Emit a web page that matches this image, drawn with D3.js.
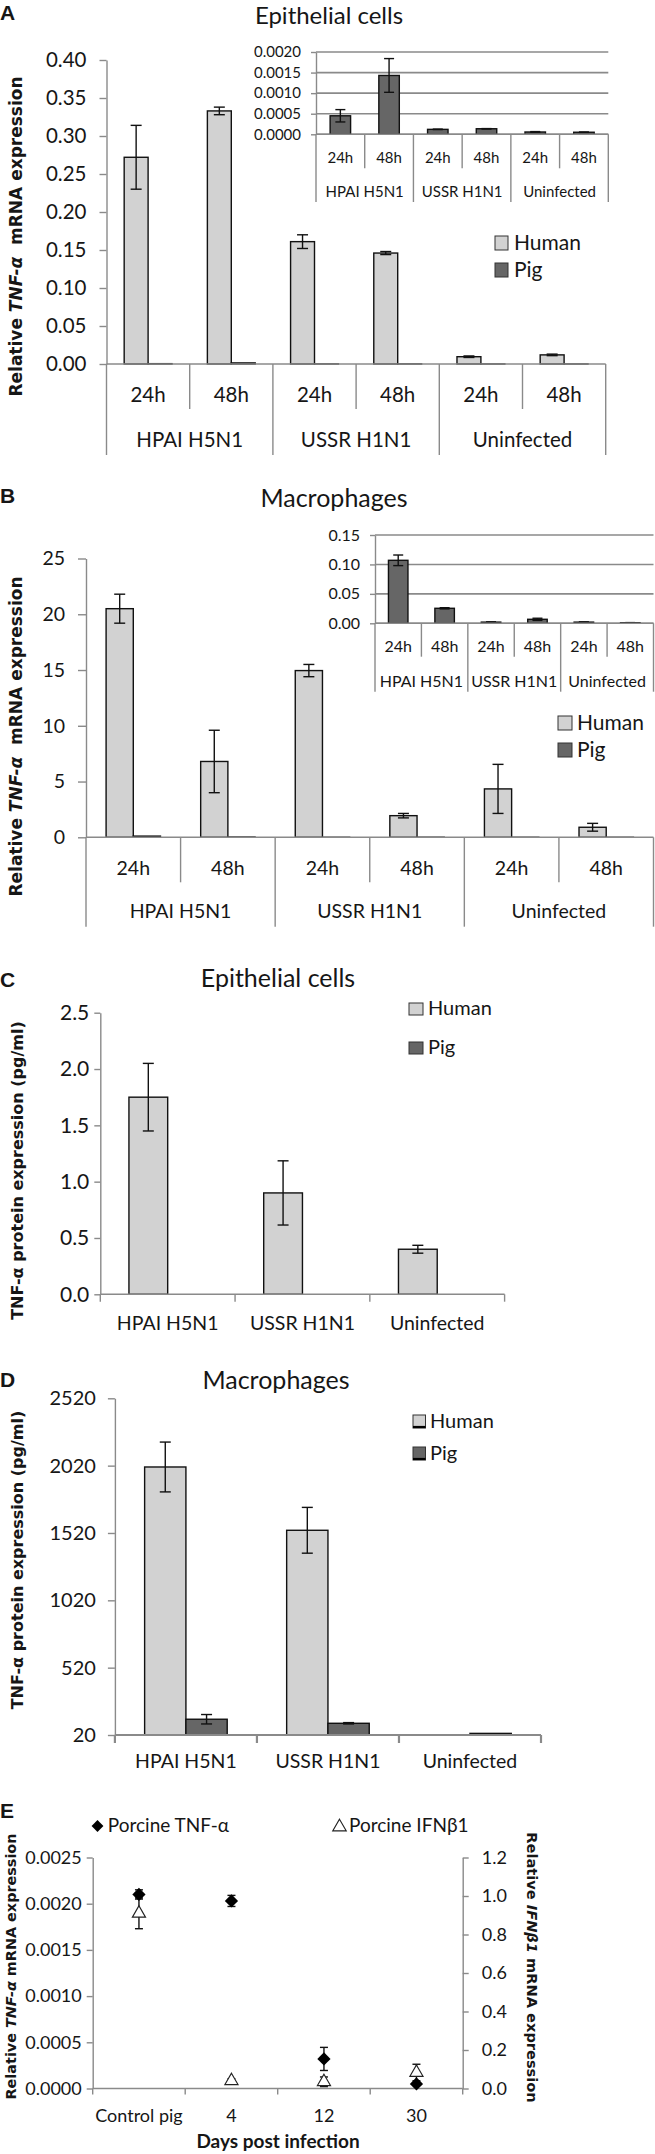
<!DOCTYPE html>
<html><head><meta charset="utf-8">
<script src="https://cdn.jsdelivr.net/npm/d3@7"></script>
<style>
body{margin:0;background:#fff}
svg{display:block}
</style></head><body>
<svg id="chart" width="655" height="2154"></svg>
<script>
// ---------- DATA ----------
const subLabels = ["24h","48h","24h","48h","24h","48h"];
const groupLabels = ["HPAI H5N1","USSR H1N1","Uninfected"];
const seriesNames = ["Human","Pig"];

// A: epithelial cells, relative TNF-a mRNA
const aHuman = [0.272,0.333,0.161,0.146,0.0096,0.012];
const aHumanErr = [0.042,0.005,0.009,0.002,0.001,0.001];
const aPig = [0.00045,0.00143,0.00012,0.000135,0.000056,0.00005];
const aPigErr = [0.00015,0.00041,0.000004,0.000004,0.00001,0.000005];
const aTicks = [0,0.05,0.10,0.15,0.20,0.25,0.30,0.35,0.40];
const aInsetTicks = [0,0.0005,0.0010,0.0015,0.0020];

// B: macrophages, relative TNF-a mRNA
const bHuman = [20.5,6.8,14.95,1.94,4.34,0.9];
const bHumanErr = [1.3,2.8,0.55,0.2,2.2,0.35];
const bPig = [0.107,0.0255,0.002,0.0068,0.002,0.001];
const bPigErr = [0.009,0.001,0.0004,0.0018,0.0003,0.0002];
const bTicks = [0,5,10,15,20,25];
const bInsetTicks = [0,0.05,0.10,0.15];

// C: epithelial cells, TNF-a protein (pg/ml)
const cCats = ["HPAI H5N1","USSR H1N1","Uninfected"];
const cHuman = [1.75,0.90,0.40];
const cHumanErr = [0.30,0.285,0.035];
const cPig = [0,0,0];
const cTicks = [0,0.5,1.0,1.5,2.0,2.5];

// D: macrophages, TNF-a protein (pg/ml)
const dHuman = [2010,1540,20];
const dHumanErr = [185,170,0];
const dPig = [137,107,32];
const dPigErr = [35,5,0];
const dTicks = [20,520,1020,1520,2020,2520];

// E: in vivo
const eDays = ["Control pig","4","12","30"];
const eTnf = [0.00210,0.00203,0.00032,0.00005];
const eTnfErr = [0.00005,0.00006,0.000125,0.00001];
const eIfn = [0.91,0.04,0.035,0.083];
const eIfnErr = [0.08,0.01,0.025,0.043];
const eLeftTicks = [0,0.0005,0.0010,0.0015,0.0020,0.0025];
const eRightTicks = [0,0.2,0.4,0.6,0.8,1.0,1.2];

// ---------- STYLE ----------
const svg = d3.select("#chart");
const AXC = "#8a8a8a", HUMC = "#d2d2d2", PIGC = "#666666", TXT = "#161616", EDGE = "#111";
const FONT = "Lato, 'Open Sans', sans-serif";
const BFONT = "'DejaVu Sans', Verdana, sans-serif";

function text(g, x, y, s, fs, anchor = "middle", opts = {}) {
  return g.append("text").attr("x", x).attr("y", y).attr("text-anchor", anchor)
    .attr("font-family", opts.family || FONT).attr("font-size", fs)
    .attr("font-weight", opts.weight || null).attr("fill", TXT).text(s);
}
function styleAxis(a, fs) {
  a.select(".domain").attr("stroke", AXC).attr("stroke-width", 1.4);
  a.selectAll(".tick line").attr("stroke", AXC).attr("stroke-width", 1.4);
  a.selectAll(".tick text").attr("font-size", fs).attr("font-family", FONT).attr("fill", TXT);
}
function leftAxis(g, y, ticks, fmt, x, size, pad, fs) {
  const a = g.append("g").attr("transform", `translate(${x},0)`)
    .call(d3.axisLeft(y).tickValues(ticks).tickFormat(fmt).tickSize(size).tickSizeOuter(0).tickPadding(pad));
  styleAxis(a, fs); return a;
}
function rightAxis(g, y, ticks, fmt, x, size, pad, fs) {
  const a = g.append("g").attr("transform", `translate(${x},0)`)
    .call(d3.axisRight(y).tickValues(ticks).tickFormat(fmt).tickSize(size).tickSizeOuter(0).tickPadding(pad));
  styleAxis(a, fs); return a;
}
function hline(g, x1, x2, y, color = AXC, w = 1.4) {
  g.append("line").attr("x1", x1).attr("x2", x2).attr("y1", y).attr("y2", y).attr("stroke", color).attr("stroke-width", w);
}
function vline(g, x, y1, y2, color = AXC, w = 1.4) {
  g.append("line").attr("x1", x).attr("x2", x).attr("y1", y1).attr("y2", y2).attr("stroke", color).attr("stroke-width", w);
}
function drawBars(g, xb, keys, xs, name, y, vals, color) {
  const base = y.range()[0];
  g.append("g").selectAll("rect").data(vals).join("rect")
    .attr("x", (d, i) => xb(keys[i]) + xs(name))
    .attr("y", d => y(d))
    .attr("width", xs.bandwidth())
    .attr("height", d => Math.max(0, base - y(d)))
    .attr("fill", color).attr("stroke", EDGE).attr("stroke-width", 1.4);
}
function drawErr(g, cxf, y, vals, errs, cap) {
  const eg = g.append("g").attr("stroke", EDGE).attr("stroke-width", 1.4);
  vals.forEach((v, i) => {
    if (!errs[i]) return;
    const cx = cxf(i), y1 = y(v - errs[i]), y2 = y(v + errs[i]);
    eg.append("line").attr("x1", cx).attr("x2", cx).attr("y1", y1).attr("y2", y2);
    eg.append("line").attr("x1", cx - cap / 2).attr("x2", cx + cap / 2).attr("y1", y1).attr("y2", y1);
    eg.append("line").attr("x1", cx - cap / 2).attr("x2", cx + cap / 2).attr("y1", y2).attr("y2", y2);
  });
}
function multiCatAxis(g, xb, keys, y0, subs, groups, o) {
  const bw = xb.bandwidth(), n = keys.length;
  const x0 = xb(keys[0]), x1 = xb(keys[n - 1]) + bw;
  hline(g, x0, x1, y0);
  for (let i = 0; i <= n; i++) {
    const xx = i < n ? xb(keys[i]) : x1;
    vline(g, xx, y0, i % 2 === 0 ? o.gy : o.sy);
  }
  subs.forEach((s, i) => text(g, xb(keys[i]) + bw / 2, o.sb, s, o.fs));
  groups.forEach((s, j) => text(g, xb(keys[2 * j]) + bw, o.gb, s, o.gfs || o.fs));
}
function yTitle(x, y, parts, fs, rot = -90) {
  const t = svg.append("text").attr("transform", `translate(${x},${y}) rotate(${rot})`)
    .attr("text-anchor", "middle").attr("dominant-baseline", "central")
    .attr("font-family", BFONT).attr("font-weight", "bold").attr("font-size", fs).attr("fill", TXT);
  parts.forEach(p => t.append("tspan").attr("font-style", p.i ? "italic" : null).text(p.t));
}
function legend(g, x, ys, tx, bs, fs, sq, bottomLine) {
  seriesNames.forEach((s, i) => {
    g.append("rect").attr("x", x).attr("y", ys[i]).attr("width", sq[0]).attr("height", sq[1])
      .attr("fill", i === 0 ? HUMC : PIGC).attr("stroke", "#333").attr("stroke-width", 1);
    if (bottomLine) hline(g, x, x + sq[0], ys[i] + sq[1] - 1, "#000", 2.2);
    text(g, tx, bs[i], s, fs, "start");
  });
}
function panelLabel(x, y, s) {
  text(svg, x, y, s, 21, "start", { family: "'Liberation Sans', Arial, sans-serif", weight: "bold" });
}

// ---------- PANEL A ----------
{
  const g = svg.append("g");
  panelLabel(0, 20, "A");
  text(g, 329, 24, "Epithelial cells", 24);
  const keys = d3.range(6);
  const y = d3.scaleLinear().domain([0, 0.4]).range([364, 60]);
  const xb = d3.scaleBand().domain(keys).range([106.5, 605.7]);
  const xs = d3.scaleBand().domain(seriesNames).range([0, xb.bandwidth()]).paddingOuter(0.739);
  drawBars(g, xb, keys, xs, "Human", y, aHuman, HUMC);
  drawBars(g, xb, keys, xs, "Pig", y, aPig, PIGC);
  drawErr(g, i => xb(keys[i]) + xs("Human") + xs.bandwidth() / 2, y, aHuman, aHumanErr, 11);
  leftAxis(g, y, aTicks, d3.format(".2f"), 106.5, 7, 13, 20.5);
  multiCatAxis(g, xb, keys, 364, subLabels, groupLabels, { sy: 409, gy: 455, sb: 402, gb: 447, fs: 20.5 });
  legend(g, 495, [236, 263], 514, [250, 277], 21, [13, 14], false);
  yTitle(16, 236.5, [{ t: "Relative " }, { t: "TNF-α", i: true }, { t: "\u00a0 mRNA expression" }], 17);

  // inset
  const yi = d3.scaleLinear().domain([0, 0.002]).range([134.3, 52]);
  const xi = d3.scaleBand().domain(keys).range([316, 608.3]);
  const xsi = d3.scaleBand().domain(["Pig"]).range([0, xi.bandwidth()]).paddingOuter(0.69);
  aInsetTicks.forEach(t => hline(g, 316, 608.3, yi(t), AXC, 1.6));
  drawBars(g, xi, keys, xsi, "Pig", yi, aPig, PIGC);
  drawErr(g, i => xi(keys[i]) + xi.bandwidth() / 2, yi, aPig, aPigErr, 10);
  leftAxis(g, yi, aInsetTicks, d3.format(".4f"), 316, 5, 10, 15);
  multiCatAxis(g, xi, keys, 134.3, subLabels, groupLabels, { sy: 168.3, gy: 202, sb: 162.7, gb: 196.7, fs: 15 });
}

// ---------- PANEL B ----------
{
  const g = svg.append("g");
  panelLabel(0, 503, "B");
  text(g, 334, 507, "Macrophages", 25);
  const keys = d3.range(6);
  const y = d3.scaleLinear().domain([0, 25]).range([837.3, 558.5]);
  const xb = d3.scaleBand().domain(keys).range([86, 653.5]);
  const xs = d3.scaleBand().domain(seriesNames).range([0, xb.bandwidth()]).paddingOuter(0.739);
  drawBars(g, xb, keys, xs, "Human", y, bHuman, HUMC);
  drawBars(g, xb, keys, xs, "Pig", y, bPig, PIGC);
  drawErr(g, i => xb(keys[i]) + xs("Human") + xs.bandwidth() / 2, y, bHuman, bHumanErr, 11);
  leftAxis(g, y, bTicks, d3.format("d"), 86, 8, 13, 19.5);
  multiCatAxis(g, xb, keys, 837.3, subLabels, groupLabels, { sy: 882.3, gy: 926.7, sb: 875, gb: 918, fs: 19.5 });
  legend(g, 558, [716, 743], 577, [730, 757], 21, [14, 14], false);
  yTitle(16, 736.5, [{ t: "Relative " }, { t: "TNF-α", i: true }, { t: "\u00a0 mRNA expression" }], 17);

  // inset
  const yi = d3.scaleLinear().domain([0, 0.15]).range([623.3, 535]);
  const xi = d3.scaleBand().domain(keys).range([375, 653.5]);
  const xsi = d3.scaleBand().domain(["Pig"]).range([0, xi.bandwidth()]).paddingOuter(0.69);
  bInsetTicks.forEach(t => hline(g, 375, 653.5, yi(t), AXC, 1.6));
  drawBars(g, xi, keys, xsi, "Pig", yi, bPig, PIGC);
  drawErr(g, i => xi(keys[i]) + xi.bandwidth() / 2, yi, bPig, bPigErr, 10);
  leftAxis(g, yi, bInsetTicks, d3.format(".2f"), 375, 5, 10, 16);
  multiCatAxis(g, xi, keys, 623.3, subLabels, groupLabels, { sy: 656.7, gy: 691.7, sb: 651.7, gb: 686.7, fs: 16 });
}

// ---------- PANEL C ----------
{
  const g = svg.append("g");
  panelLabel(0, 987, "C");
  text(g, 278, 987, "Epithelial cells", 25);
  const y = d3.scaleLinear().domain([0, 2.5]).range([1294.3, 1012.7]);
  const xb = d3.scaleBand().domain(cCats).range([100.3, 504.6]);
  const xs = d3.scaleBand().domain(seriesNames).range([0, xb.bandwidth()]).paddingOuter(0.739);
  drawBars(g, xb, cCats, xs, "Human", y, cHuman, HUMC);
  drawBars(g, xb, cCats, xs, "Pig", y, cPig, PIGC);
  drawErr(g, i => xb(cCats[i]) + xs("Human") + xs.bandwidth() / 2, y, cHuman, cHumanErr, 11);
  leftAxis(g, y, cTicks, d3.format(".1f"), 100.3, 6, 5, 21);
  hline(g, 100.3, 504.6, 1294.3);
  cCats.forEach(c => vline(g, xb(c), 1294.3, 1301.7));
  vline(g, 504.6, 1294.3, 1301.7);
  cCats.forEach(c => text(g, xb(c) + xb.bandwidth() / 2, 1330, c, 19.5));
  legend(g, 409, [1003, 1042], 428, [1015, 1054], 20, [14, 12], false);
  yTitle(17, 1170.5, [{ t: "TNF-α protein expression (pg/ml)" }], 16);
}

// ---------- PANEL D ----------
{
  const g = svg.append("g");
  panelLabel(0, 1387, "D");
  text(g, 276, 1389, "Macrophages", 25);
  const y = d3.scaleLinear().domain([20, 2520]).range([1735, 1398.3]);
  const xb = d3.scaleBand().domain(cCats).range([114.9, 541]);
  const xs = d3.scaleBand().domain(seriesNames).range([0, xb.bandwidth()]).paddingOuter(0.72);
  drawBars(g, xb, cCats, xs, "Human", y, dHuman, HUMC);
  drawBars(g, xb, cCats, xs, "Pig", y, dPig, PIGC);
  drawErr(g, i => xb(cCats[i]) + xs("Human") + xs.bandwidth() / 2, y, dHuman, dHumanErr, 11);
  drawErr(g, i => xb(cCats[i]) + xs("Pig") + xs.bandwidth() / 2, y, dPig, dPigErr, 11);
  leftAxis(g, y, dTicks, d3.format("d"), 114.9, 7, 12, 20);
  hline(g, 114.9, 541, 1735, AXC, 2.2);
  cCats.forEach(c => vline(g, xb(c), 1735, 1743, AXC, 2.2));
  vline(g, 541, 1735, 1743, AXC, 2.2);
  cCats.forEach(c => text(g, xb(c) + xb.bandwidth() / 2, 1768.3, c, 19.5));
  legend(g, 413, [1415, 1447], 430, [1428, 1460], 20, [12.5, 13], true);
  yTitle(17, 1560, [{ t: "TNF-α protein expression (pg/ml)" }], 16);
}

// ---------- PANEL E ----------
{
  const g = svg.append("g");
  panelLabel(0, 1818, "E");
  const yl = d3.scaleLinear().domain([0, 0.0025]).range([2088.5, 1857.5]);
  const yr = d3.scaleLinear().domain([0, 1.2]).range([2088.5, 1857.5]);
  const xb = d3.scaleBand().domain(eDays).range([92.7, 462.7]);
  const cx = i => xb(eDays[i]) + xb.bandwidth() / 2;
  leftAxis(g, yl, eLeftTicks, d3.format(".4f"), 92.7, 6, 5, 18);
  rightAxis(g, yr, eRightTicks, d3.format(".1f"), 462.7, 6, 13, 18);
  hline(g, 92.7, 462.7, 2088.5);
  eDays.forEach(d => vline(g, xb(d), 2088.5, 2094.5));
  vline(g, 462.7, 2088.5, 2094.5);
  eDays.forEach(d => text(g, xb(d) + xb.bandwidth() / 2, 2121.7, d, 18));
  text(g, 278, 2148, "Days post infection", 19, "middle", { weight: "bold" });

  const diamond = d3.symbol(d3.symbolSquare, 88)();
  const tri = d3.symbol(d3.symbolTriangle, 74)();
  drawErr(g, cx, yr, eIfn, eIfnErr, 8);
  drawErr(g, cx, yl, eTnf, eTnfErr, 8);
  g.append("g").selectAll("path").data(eIfn).join("path")
    .attr("d", tri).attr("transform", (d, i) => `translate(${cx(i)},${yr(d)})`)
    .attr("fill", "#fff").attr("stroke", "#222").attr("stroke-width", 1.2);
  g.append("g").selectAll("path").data(eTnf).join("path")
    .attr("d", diamond).attr("transform", (d, i) => `translate(${cx(i)},${yl(d)}) rotate(45)`)
    .attr("fill", "#000");

  // legend
  g.append("path").attr("d", d3.symbol(d3.symbolSquare, 70)()).attr("transform", "translate(97.5,1826) rotate(45)").attr("fill", "#000");
  text(g, 107.8, 1831.7, "Porcine TNF-α", 19, "start");
  g.append("path").attr("d", d3.symbol(d3.symbolTriangle, 80)()).attr("transform", "translate(339.5,1827)")
    .attr("fill", "#fff").attr("stroke", "#222").attr("stroke-width", 1.1);
  text(g, 349, 1831.7, "Porcine IFNβ1", 19, "start");

  yTitle(10.5, 1966.5, [{ t: "Relative " }, { t: "TNF-α", i: true }, { t: " mRNA expression" }], 14.4);
  yTitle(533, 1967.5, [{ t: "Relative " }, { t: "IFNβ1", i: true }, { t: " mRNA expression" }], 14.6, 90);
}
</script>
</body></html>
